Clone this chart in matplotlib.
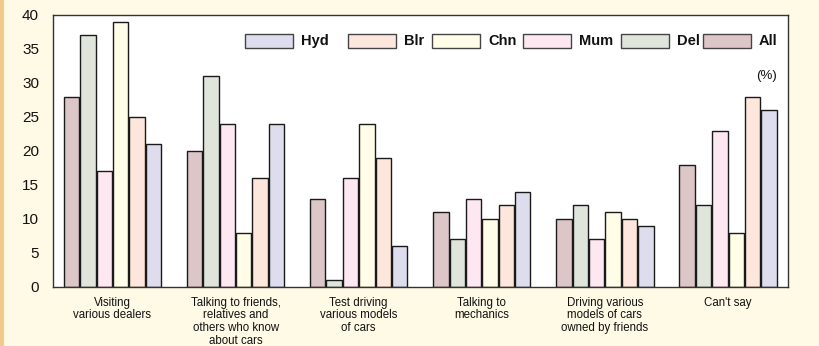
import numpy as np
import matplotlib.pyplot as plt
from matplotlib.patches import Rectangle

plt.rcParams['font.family'] = ['Liberation Sans', 'DejaVu Sans']

categories = [
    "Visiting\nvarious dealers",
    "Talking to friends,\nrelatives and\nothers who know\nabout cars",
    "Test driving\nvarious models\nof cars",
    "Talking to\nmechanics",
    "Driving various\nmodels of cars\nowned by friends",
    "Can't say",
]
series_names = ["All", "Del", "Mum", "Chn", "Blr", "Hyd"]
all_vals = [28, 20, 13, 11, 10, 18]
del_vals = [37, 31, 1, 7, 12, 12]
mum_vals = [17, 24, 16, 13, 7, 23]
chn_vals = [39, 8, 24, 10, 11, 8]
blr_vals = [25, 16, 19, 12, 10, 28]
hyd_vals = [21, 24, 6, 14, 9, 26]
yticks = [0, 5, 10, 15, 20, 25, 30, 35, 40]

colors = {
    "All": "#dcc6c8",
    "Del": "#e0e5dc",
    "Mum": "#fde8f2",
    "Chn": "#fffce8",
    "Blr": "#fde6dc",
    "Hyd": "#ddddee",
}
series = [all_vals, del_vals, mum_vals, chn_vals, blr_vals, hyd_vals]

W, H = 820, 346
bg = "#fefae6"
fig = plt.figure(figsize=(W / 100, H / 100), dpi=100, facecolor=bg)
# orange strip on the left edge
fig.patches.append(Rectangle((0, 0), 3.5 / W, 1, transform=fig.transFigure,
                             facecolor="#f3c98e", edgecolor="none"))

ax = fig.add_axes([53 / W, 59 / H, 735 / W, 272 / H])
ax.set_facecolor("white")

x = np.arange(len(categories))
slot = 0.133
for k, (name, vals) in enumerate(zip(series_names, series)):
    ax.bar(x + (k - 2.5) * slot, vals, width=0.125, color=colors[name],
           edgecolor="#1a1a1a", linewidth=1.0, zorder=2)

ax.set_xlim(-0.483, 5.487)
ax.set_ylim(0, 40)
ax.set_yticks(yticks)
ax.set_yticklabels([str(v) for v in yticks], fontsize=11, color="#111111")
ax.set_xticks(x)
ax.set_xticklabels(categories, fontsize=8.3, linespacing=1.08, color="#111111")
ax.tick_params(axis="both", length=0)
ax.tick_params(axis="y", pad=10)
ax.tick_params(axis="x", pad=7)
for sp in ax.spines.values():
    sp.set_color("#333333")
    sp.set_linewidth(1.0)

# legend row (patch, then bold label), left edges in pixels
leg_order = ["Hyd", "Blr", "Chn", "Mum", "Del", "All"]
leg_left = [245, 348, 432, 523, 621, 703]
for name, lx in zip(leg_order, leg_left):
    fig.patches.append(Rectangle((lx / W, 1 - 48 / H), 48 / W, 14 / H,
                                 transform=fig.transFigure, facecolor=colors[name],
                                 edgecolor="#444444", linewidth=1.0))
    fig.text((lx + 56) / W, 1 - 41 / H, name, ha="left", va="center",
             fontsize=10.5, fontweight="bold", color="#111111")

ax.text(0.985, 0.776, "(%)", transform=ax.transAxes, ha="right", va="center",
        fontsize=9.5, color="#111111")

fig.savefig("out.png", dpi=100, facecolor=bg)
